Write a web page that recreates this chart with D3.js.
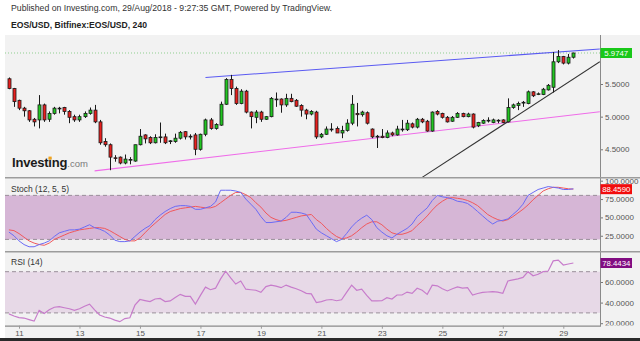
<!DOCTYPE html>
<html>
<head>
<meta charset="utf-8">
<script src="https://cdn.jsdelivr.net/npm/d3@7"></script>
<style>
  body { margin: 0; background: #fff; }
  svg { display: block; font-family: "Liberation Sans", Arial, sans-serif; }
</style>
</head>
<body>
<svg id="chart" width="640" height="341"></svg>
<script>
// EOS/USD 4-hour candles, Bitfinex, 10 Aug 16:00 UTC to 29 Aug 08:00 UTC
const firstBar = Date.UTC(2018, 7, 10, 16);
const barHours = 4;

const openP = [5.58,5.43,5.25,5.13,5.09,4.96,4.95,5.18,4.96,5.05,5.12,5.14,5.08,5.00,4.95,5.00,5.05,5.10,4.92,4.62,
  4.57,4.37,4.38,4.29,4.34,4.32,4.57,4.72,4.68,4.60,4.69,4.69,4.62,4.62,4.67,4.77,4.70,4.72,4.50,4.73,
  4.95,4.82,4.87,5.19,5.57,5.43,5.20,5.39,5.07,4.99,5.07,4.96,5.00,5.27,5.27,5.18,5.28,5.25,5.17,5.10,
  5.04,5.07,4.69,4.73,4.80,4.82,4.75,4.79,4.90,5.05,5.03,5.06,4.81,4.70,4.70,4.68,4.75,4.72,4.80,4.80,
  4.89,4.84,4.96,4.93,4.78,5.08,5.05,4.99,4.93,4.99,5.05,5.00,5.04,4.86,4.90,4.94,4.91,4.94,4.95,4.92,
  5.14,5.17,5.21,5.20,5.38,5.34,5.34,5.41,5.45,5.84,5.92,5.82,5.91];
const highP = [5.60,5.44,5.26,5.15,5.10,4.98,5.33,5.20,5.08,5.15,5.15,5.15,5.10,5.03,5.03,5.08,5.14,5.18,4.95,4.67,
  4.59,4.41,4.39,4.42,4.38,4.57,4.81,4.73,4.70,4.73,4.91,4.74,4.64,4.74,4.78,4.78,4.73,4.75,4.74,4.97,
  4.98,4.90,5.23,5.59,5.64,5.46,5.42,5.41,5.08,5.10,5.09,5.01,5.30,5.37,5.28,5.35,5.35,5.27,5.19,5.12,
  5.10,5.09,4.75,4.85,4.90,4.85,4.86,4.96,5.33,5.21,5.09,5.08,4.82,4.72,4.81,4.79,4.77,4.86,4.95,4.95,
  4.91,4.98,4.98,4.95,5.08,5.10,5.06,5.01,5.01,5.07,5.06,5.06,5.05,4.92,4.96,4.99,4.97,4.96,4.96,5.28,
  5.20,5.23,5.24,5.40,5.39,5.37,5.44,5.50,5.99,6.02,5.93,5.96,5.98];
const lowP = [5.42,5.15,5.10,5.00,4.92,4.85,4.82,4.92,4.92,5.03,5.05,5.03,4.90,4.92,4.92,4.98,5.03,4.90,4.57,4.54,
  4.18,4.31,4.27,4.27,4.27,4.31,4.56,4.59,4.58,4.59,4.60,4.58,4.58,4.60,4.65,4.65,4.65,4.41,4.48,4.70,
  4.80,4.80,4.86,5.18,5.33,5.18,5.19,5.05,4.82,4.90,4.92,4.95,4.99,5.15,5.06,5.15,5.22,5.15,5.00,4.96,
  5.02,4.66,4.67,4.72,4.77,4.75,4.67,4.77,4.87,4.85,5.00,4.88,4.67,4.52,4.67,4.67,4.70,4.71,4.77,4.78,
  4.82,4.82,4.90,4.77,4.77,5.02,4.97,4.91,4.92,4.98,4.99,4.99,4.82,4.84,4.89,4.91,4.90,4.90,4.90,4.91,
  5.12,5.10,5.15,5.19,5.30,5.33,5.33,5.40,5.37,5.82,5.80,5.80,5.89];
const closeP = [5.43,5.23,5.13,5.09,4.95,4.92,5.18,4.95,5.05,5.13,5.13,5.08,4.99,4.95,5.00,5.05,5.10,4.92,4.60,4.57,
  4.38,4.36,4.29,4.35,4.345,4.57,4.70,4.66,4.60,4.68,4.69,4.60,4.63,4.67,4.76,4.69,4.70,4.50,4.73,4.95,
  4.82,4.88,5.19,5.57,5.43,5.20,5.39,5.07,5.00,5.07,4.96,5.00,5.28,5.26,5.18,5.28,5.23,5.16,5.10,5.04,
  5.08,4.69,4.73,4.81,4.81,4.75,4.79,4.90,5.19,5.03,5.07,4.90,4.69,4.69,4.68,4.75,4.72,4.81,4.81,4.90,
  4.84,4.96,4.92,4.78,5.07,5.04,4.99,4.92,4.99,5.05,5.00,5.04,4.84,4.91,4.94,4.945,4.95,4.945,4.91,5.14,
  5.18,5.20,5.22,5.38,5.32,5.35,5.42,5.48,5.84,5.92,5.82,5.91,5.9747];

// Stochastic (12, 5, 5): %K and %D
const stochK = [30,25,18,13,10,10,13,15,18,24,29,31,33,33,34,37,40,36,34,31,
  26,19,17,17,18,24,30,35,39,47,53,58,62,65,66,66,65,61,61,63,
  65,71,87,87,87,86,84,75,68,61,51,43,43,44,45,50,57,57,56,54,
  44,34,29,25,21,17,20,28,37,44,49,53,47,36,30,25,22,27,31,35,
  41,51,57,63,73,80,78,77,75,72,71,69,64,58,52,46,41,45,46,48,
  54,60,68,80,84,88,90,92,91,90,88,88,89];
const stochD = [33,32,28,23,18,15,13,12,15,20,23,26,29,31,33,34,35,36,36,35,
  32,28,24,20,18,18,22,29,36,42,48,54,58,60,62,63,64,65,64,63,
  63,65,70,75,80,84,84,81,77,70,64,56,50,47,45,46,48,50,52,53,
  54,47,42,35,29,24,21,22,25,30,36,41,44,44,40,34,29,27,27,29,
  32,39,45,52,60,67,72,76,77,76,75,73,70,66,60,54,50,47,45,47,
  51,56,61,67,74,80,86,89,91,91,90,89,88.459];

// RSI (14)
const rsi = [29,27,25.5,25,23.5,22,32.5,29.5,33,35.5,36,35,34,32.5,34,36.5,38.5,33,28,26,
  25,23,21.5,24.5,25.3,37.5,43,42,41,43.5,44,41,41.6,45,48,46,46,38.5,47,55,
  52.5,54,63,70.5,64,58,61,53,52.5,52,50,55.5,57,56,54.5,57,55,53.5,51.5,49,
  48.5,40,41,42.5,43,41.8,42.8,50,57,52,53,47,41.6,41.6,41.8,44.8,43.5,47.4,47.4,50.2,
  49,53.9,52,48,57,56.3,53.5,51.3,53.5,55.3,54,54.6,47.4,48.8,50,50.3,50.6,50.2,49,61,
  62,63,64.5,70,66,67.5,70,70.7,80.5,81.2,76.5,77.5,78.4434];

// Axis ticks
const dayTicks = [11, 13, 15, 17, 19, 21, 23, 25, 27, 29];
const priceTicks = [5.5, 5.0, 4.5];
const stochTicks = [100, 75, 50, 25];
const rsiTicks = [60, 40, 20];

// Drawn trendlines: [UTC time, price] pairs
const resistanceLine = [["2018-08-17T04:00:00Z", 5.60], ["2018-08-30T05:00:00Z", 6.036]];
const supportLine = [["2018-08-13T12:00:00Z", 4.17], ["2018-08-30T05:00:00Z", 5.076]];
const rallyLine = [["2018-08-24T08:00:00Z", 4.07], ["2018-08-30T05:00:00Z", 5.84]];

const svg = d3.select("#chart");
const fmt4 = d3.format(".4f");

const bars = openP.map((o, i) => ({
  t: new Date(firstBar + i * barHours * 3600e3),
  o, h: highP[i], l: lowP[i], c: closeP[i],
  k: stochK[i], d: stochD[i], r: rsi[i]
}));

// Layout
const L = 5, R = 600;
const x = d3.scaleUtc()
  .domain([new Date(Date.UTC(2018, 7, 11)), new Date(Date.UTC(2018, 7, 29))])
  .range([19, 563.3]);
const yP = d3.scaleLinear().domain([4.5, 5.5]).range([149.3, 84]);
const yS = d3.scaleLinear().domain([0, 100]).range([254.1, 180.7]);
const yR = d3.scaleLinear().domain([20, 60]).range([323.2, 282]);

const panels = {
  price: [36, 177.5],
  stoch: [178.5, 251.5],
  rsi: [252.5, 325.5]
};

// Background
svg.append("rect").attr("x", L).attr("y", 35).attr("width", 640 - L).attr("height", 303).attr("fill", "#f2f2f2");
svg.append("rect").attr("x", 0).attr("y", 338).attr("width", 640).attr("height", 3).attr("fill", "#2a2a2a");

// Header
svg.append("text").attr("x", 11).attr("y", 10.5).attr("font-size", 8.5).attr("fill", "#333")
  .attr("textLength", 321).attr("lengthAdjust", "spacingAndGlyphs")
  .text("Published on Investing.com, 29/Aug/2018 - 9:27:35 GMT, Powered by TradingView.");
svg.append("text").attr("x", 11).attr("y", 28).attr("font-size", 8.5).attr("font-weight", "bold").attr("fill", "#222")
  .attr("textLength", 136).attr("lengthAdjust", "spacingAndGlyphs")
  .text("EOS/USD, Bitfinex:EOS/USD, 240");

// Clip paths
const defs = svg.append("defs");
Object.entries(panels).forEach(([name, [t, b]]) => {
  defs.append("clipPath").attr("id", "clip-" + name)
    .append("rect").attr("x", L).attr("y", t).attr("width", R - L).attr("height", b - t);
  defs.append("clipPath").attr("id", "clipaxis-" + name)
    .append("rect").attr("x", R).attr("y", t).attr("width", 640 - R).attr("height", b - t);
});

// ---------- Price panel ----------
const gP = svg.append("g").attr("clip-path", "url(#clip-price)");

// Investing.com watermark
const logo = svg.append("g");
const logoText = logo.append("text").attr("x", 12).attr("y", 167).attr("font-size", 13)
  .attr("font-weight", "bold").attr("fill", "#1b1b1b").attr("letter-spacing", -0.2).text("Investing");
const logoW = logoText.node().getComputedTextLength();
logo.append("text").attr("x", 12 + logoW).attr("y", 167).attr("font-size", 9.5).attr("fill", "#7a7a7a").text(".com");
try {
  const ext = logoText.node().getExtentOfChar(6);
  logo.append("rect").attr("x", ext.x + ext.width / 2 - 1.6).attr("y", 156.6)
    .attr("width", 3.2).attr("height", 3).attr("fill", "#f2a21b");
} catch (e) {}

// last-price dotted line
gP.append("line").attr("x1", L).attr("x2", R)
  .attr("y1", yP(closeP[closeP.length - 1])).attr("y2", yP(closeP[closeP.length - 1]))
  .attr("stroke", "#8fcf8f").attr("stroke-width", 1).attr("stroke-dasharray", "1,2");

// trendlines
const trend = d3.line().x(d => x(new Date(d[0]))).y(d => yP(d[1]));
[[resistanceLine, "#5a5af2"], [supportLine, "#ef6ce9"], [rallyLine, "#333"]].forEach(([pts, col]) => {
  gP.append("path").attr("d", trend(pts)).attr("fill", "none").attr("stroke", col).attr("stroke-width", 1.1);
});

// candles
const cg = gP.selectAll("g.candle").data(bars).join("g").attr("class", "candle");
cg.append("line")
  .attr("x1", d => Math.round(x(d.t)) + 0.5).attr("x2", d => Math.round(x(d.t)) + 0.5)
  .attr("y1", d => yP(d.h)).attr("y2", d => yP(d.l))
  .attr("stroke", "#1a1a1a").attr("stroke-width", 1);
cg.append("rect")
  .attr("x", d => Math.round(x(d.t)) - 1)
  .attr("width", 3)
  .attr("y", d => yP(Math.max(d.o, d.c)))
  .attr("height", d => Math.max(0.8, Math.abs(yP(d.o) - yP(d.c))))
  .attr("fill", d => d.c >= d.o ? "#22c622" : "#e8201e")
  .attr("stroke", "#1a1a1a").attr("stroke-width", 0.8);

// price axis
const axP = svg.append("g").attr("transform", `translate(${R},0)`)
  .call(d3.axisRight(yP).tickValues(priceTicks).tickFormat(fmt4).tickSize(3).tickPadding(2));

// ---------- Stochastic panel ----------
const gS = svg.append("g").attr("clip-path", "url(#clip-stoch)");
gS.append("rect").attr("x", L).attr("width", R - L).attr("y", yS(80)).attr("height", yS(20) - yS(80)).attr("fill", "#d6b6d6");
[80, 20].forEach(v => gS.append("line").attr("x1", L).attr("x2", R).attr("y1", yS(v)).attr("y2", yS(v))
  .attr("stroke", "#9a8f9a").attr("stroke-dasharray", "4,3"));
gS.append("path").datum(bars).attr("fill", "none").attr("stroke", "#f0585c").attr("stroke-width", 1)
  .attr("d", d3.line().x(d => x(d.t)).y(d => yS(d.d)));
gS.append("path").datum(bars).attr("fill", "none").attr("stroke", "#6b6bf5").attr("stroke-width", 1)
  .attr("d", d3.line().x(d => x(d.t)).y(d => yS(d.k)));
svg.append("text").attr("x", 11).attr("y", 191.5).attr("font-size", 8.5).attr("fill", "#333").text("Stoch (12, 5, 5)");
const axS = svg.append("g").attr("clip-path", "url(#clipaxis-stoch)").append("g").attr("transform", `translate(${R},0)`)
  .call(d3.axisRight(yS).tickValues(stochTicks).tickFormat(fmt4).tickSize(3).tickPadding(2));

// ---------- RSI panel ----------
const gR = svg.append("g").attr("clip-path", "url(#clip-rsi)");
gR.append("rect").attr("x", L).attr("width", R - L).attr("y", yR(70)).attr("height", yR(30) - yR(70)).attr("fill", "#e7d9e7");
[70, 30].forEach(v => gR.append("line").attr("x1", L).attr("x2", R).attr("y1", yR(v)).attr("y2", yR(v))
  .attr("stroke", "#9a8f9a").attr("stroke-dasharray", "4,3"));
gR.append("path").datum(bars).attr("fill", "none").attr("stroke", "#c77ccb").attr("stroke-width", 1.2)
  .attr("d", d3.line().x(d => x(d.t)).y(d => yR(d.r)));
svg.append("text").attr("x", 11).attr("y", 265).attr("font-size", 8.5).attr("fill", "#333").text("RSI (14)");
const axR = svg.append("g").attr("clip-path", "url(#clipaxis-rsi)").append("g").attr("transform", `translate(${R},0)`)
  .call(d3.axisRight(yR).tickValues(rsiTicks).tickFormat(fmt4).tickSize(3).tickPadding(2));

// common y-axis styling
[axP, axS, axR].forEach(a => {
  a.select(".domain").remove();
  a.selectAll("line").attr("stroke", "#777");
  a.selectAll("text").attr("font-size", 8).attr("fill", "#555").attr("font-family", "Liberation Sans, Arial, sans-serif");
});

// ---------- Frame lines ----------
svg.append("line").attr("x1", R + 0.5).attr("x2", R + 0.5).attr("y1", 35).attr("y2", 326)
  .attr("stroke", "#8a8a8a").attr("stroke-width", 1);
[177.7, 251.8].forEach(yy => svg.append("line").attr("x1", L).attr("x2", 640).attr("y1", yy).attr("y2", yy)
  .attr("stroke", "#9c9c9c").attr("stroke-width", 1.6));

// time axis
const axX = svg.append("g").attr("transform", "translate(0,325.7)")
  .call(d3.axisBottom(x)
    .tickValues(dayTicks.map(d => new Date(Date.UTC(2018, 7, d))))
    .tickFormat(d3.utcFormat("%-d")).tickSize(3).tickPadding(2).tickSizeOuter(0));
axX.select(".domain").attr("d", `M${L},0.5H${R + 1}`).attr("stroke", "#8a8a8a").attr("stroke-width", 1.2);
axX.selectAll(".tick line").attr("stroke", "#999");
axX.selectAll("text").attr("font-size", 8).attr("fill", "#555").attr("font-family", "Liberation Sans, Arial, sans-serif");

// ---------- Last-value badges ----------
function badge(yv, label, fill) {
  svg.append("rect").attr("x", R + 0.5).attr("y", yv - 5).attr("width", 31.5).attr("height", 10).attr("fill", fill);
  svg.append("text").attr("x", R + 16.25).attr("y", yv + 3).attr("font-size", 7.8)
    .attr("text-anchor", "middle").attr("fill", "#fff").text(label);
}
badge(yP(closeP[closeP.length - 1]), fmt4(closeP[closeP.length - 1]), "#19c819");
badge(yS(stochD[stochD.length - 1]), fmt4(stochD[stochD.length - 1]), "#f20d0d");
badge(yR(rsi[rsi.length - 1]), fmt4(rsi[rsi.length - 1]), "#820d82");
</script>
</body>
</html>
